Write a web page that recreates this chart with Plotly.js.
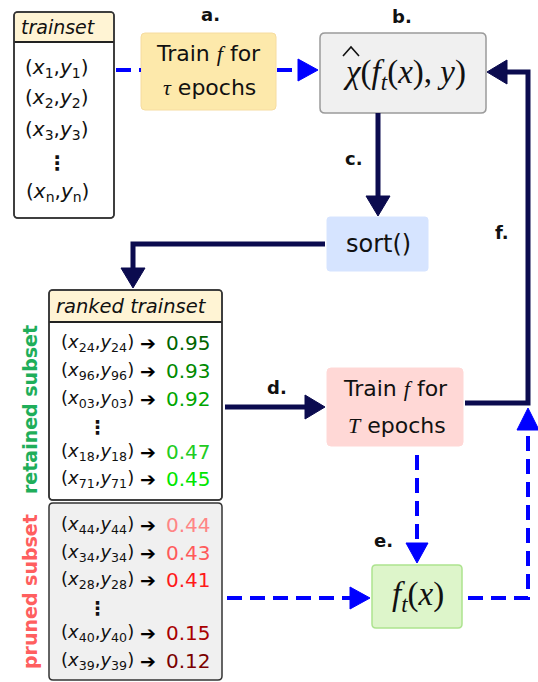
<!DOCTYPE html>
<html>
<head>
<meta charset="utf-8">
<script src="https://cdn.plot.ly/plotly-3.0.1.min.js"></script>
<style>html,body{margin:0;padding:0;background:#fff;}</style>
</head>
<body>
<div id="chart" style="width:538px;height:682px;"></div>
<script>
// ---- data (text content of the diagram) ----
const trainsetTitle = "trainset";
const trainsetIdx = ["1", "2", "3", "⋮", "n"];
const rankedTitle = "ranked trainset";
const retainedIdx = ["24", "96", "03", "⋮", "18", "71"];
const retainedScores = ["0.95", "0.93", "0.92", "", "0.47", "0.45"];
const retainedColors = ["#006400", "#008a00", "#00a600", "", "#22cc22", "#00e600"];
const prunedIdx = ["44", "34", "28", "⋮", "40", "39"];
const prunedScores = ["0.44", "0.43", "0.41", "", "0.15", "0.12"];
const prunedColors = ["#ff8585", "#ff5a5a", "#ff1a1a", "", "#a80000", "#7a0000"];
const stepLabels = ["a.", "b.", "c.", "d.", "e.", "f."];
const sideLabels = ["retained subset", "pruned subset"];
const sideColors = ["#1fae5a", "#ff5f5f"];

// ---- helpers ----
const NAVY = "#0b0b4f", BLUE = "#0000ff";
const SANS = "DejaVu Sans", SERIF = "Liberation Serif";
function rr(x0, y0, x1, y1, r) {
  return `M${x0+r},${y0} L${x1-r},${y0} Q${x1},${y0} ${x1},${y0+r} L${x1},${y1-r} Q${x1},${y1} ${x1-r},${y1} L${x0+r},${y1} Q${x0},${y1} ${x0},${y1-r} L${x0},${y0+r} Q${x0},${y0} ${x0+r},${y0} Z`;
}
function box(x0, y0, x1, y1, fill, lc, lw, r) {
  return {type: "path", xref: "x", yref: "y", path: rr(x0, y0, x1, y1, r === undefined ? 4 : r),
          fillcolor: fill, line: {color: lc, width: lw}};
}
function poly(pts, color, width, dash) {
  return {type: "path", xref: "x", yref: "y",
          path: "M" + pts.map(p => p[0] + "," + p[1]).join(" L"),
          line: {color: color, width: width, dash: dash || "solid"}};
}
function tri(pts, color) {
  return {type: "path", xref: "x", yref: "y",
          path: "M" + pts.map(p => p[0] + "," + p[1]).join(" L") + " Z",
          fillcolor: color, line: {color: color, width: 1}};
}
function txt(x, y, text, size, opts) {
  return Object.assign({x: x, y: y, xref: "x", yref: "y", text: text, showarrow: false,
    xanchor: "center", yanchor: "middle", font: {family: SANS, size: size, color: "#111"}}, opts || {});
}
const sf = s => `<span style="font-family:'${SERIF}'"><i>${s}</i></span>`;
const tuple = i => `(<i>x</i><sub>${i}</sub>,<i>y</i><sub>${i}</sub>)`;

const shapes = [];
const ann = [];

// trainset box
shapes.push(box(14, 12, 114, 218, "#ffffff", "#333", 1.5, 4));
shapes.push({type: "rect", xref: "x", yref: "y", x0: 15, x1: 113, y0: 13, y1: 42, fillcolor: "#fff4d4", line: {width: 0}});
shapes.push(poly([[14, 42], [114, 42]], "#222", 2));
shapes.push(box(14, 12, 114, 218, "rgba(0,0,0,0)", "#333", 1.5, 4));
ann.push(txt(19, 27, `<i>${trainsetTitle}</i>`, 19, {xanchor: "left"}));
const tsY = [68, 98, 130, 163, 192];
trainsetIdx.forEach((s, k) => {
  ann.push(txt(57, tsY[k], s === "⋮" ? "<b>⋮</b>" : tuple(s), 20));
});

// ranked trainset box
shapes.push(box(49, 290, 222, 500, "#ffffff", "#333", 1.5, 4));
shapes.push({type: "rect", xref: "x", yref: "y", x0: 50, x1: 221, y0: 291, y1: 322, fillcolor: "#fff4d4", line: {width: 0}});
shapes.push(poly([[49, 322], [222, 322]], "#222", 2));
shapes.push(box(49, 290, 222, 500, "rgba(0,0,0,0)", "#333", 1.5, 4));
shapes.push(box(49, 503, 222, 680, "#f0f0f0", "#333", 1.5, 4));
ann.push(txt(54, 306, `<i>${rankedTitle}</i>`, 19.5, {xanchor: "left"}));
const rY = [343, 371, 399, 427, 452, 479];
const pY = [525, 553, 580, 608, 633, 661];
function rows(idx, scores, colors, ys) {
  idx.forEach((s, k) => {
    if (s === "⋮") { ann.push(txt(97, ys[k], "<b>⋮</b>", 19)); return; }
    ann.push(txt(59, ys[k], tuple(s), 18, {xanchor: "left"}));
    ann.push(txt(148, ys[k], "➔", 19, {font: {family: SANS, size: 19, color: "#000"}}));
    ann.push(txt(164, ys[k], scores[k], 20, {xanchor: "left", font: {family: SANS, size: 20, color: colors[k]}}));
  });
}
rows(retainedIdx, retainedScores, retainedColors, rY);
rows(prunedIdx, prunedScores, prunedColors, pY);
ann.push(txt(30, 410, `<b>${sideLabels[0]}</b>`, 19, {textangle: -90, font: {family: SANS, size: 19, color: sideColors[0]}}));
ann.push(txt(30, 592, `<b>${sideLabels[1]}</b>`, 19, {textangle: -90, font: {family: SANS, size: 19, color: sideColors[1]}}));

// box a
shapes.push(box(141, 33, 276, 110, "#fde9ab", "#f6dca0", 1, 4));
ann.push(txt(208, 53, `Train ${sf("f")} for`, 22));
ann.push(txt(209, 87, `${sf("τ")} epochs`, 22));
// box b
shapes.push(box(320, 33, 486, 113, "#f0f0f0", "#9a9a9a", 1.5, 5));
ann.push(txt(404, 74, `<i>χ</i>(<i>f</i><sub><i>t</i></sub>(<i>x</i>), <i>y</i>)`, 33, {font: {family: SERIF, size: 33, color: "#111"}}));
// circumflex accent over chi
shapes.push(poly([[343, 56], [351, 47], [359, 56]], "#111", 1.6));
// sort box
shapes.push(box(327, 217, 428, 271, "#d6e4ff", "#d6e4ff", 1, 3));
ann.push(txt(378, 244, "sort()", 24));
// box T
shapes.push(box(327, 368, 463, 446, "#ffd8d6", "#ffd8d6", 1, 4));
ann.push(txt(395, 388, `Train ${sf("f")} for`, 22));
ann.push(txt(397, 425, `${sf("T")} epochs`, 22));
// box e
shapes.push(box(372, 565, 462, 628, "#ddf5ca", "#ade38f", 1.5, 4));
ann.push(txt(418, 596, `<i>f</i><sub><i>t</i></sub>(<i>x</i>)`, 33, {font: {family: SERIF, size: 33, color: "#111"}}));

// navy solid connectors
shapes.push(poly([[378, 113], [378, 198]], NAVY, 5));
shapes.push(tri([[366, 196], [390, 196], [378, 216]], NAVY));
shapes.push(poly([[325, 244], [133, 244], [133, 270]], NAVY, 5));
shapes.push(tri([[121, 268], [145, 268], [133, 288]], NAVY));
shapes.push(poly([[225, 407], [307, 407]], NAVY, 5));
shapes.push(tri([[305, 395], [305, 419], [325, 407]], NAVY));
shapes.push(poly([[465, 403], [528, 403], [528, 72], [505, 72]], NAVY, 5));
shapes.push(tri([[507, 60], [507, 84], [487, 72]], NAVY));

// blue dashed connectors
const DASH = "15px,8px";
shapes.push(poly([[116, 70], [141, 70]], BLUE, 4, DASH));
shapes.push(poly([[277, 70], [300, 70]], BLUE, 4, DASH));
shapes.push(tri([[298, 59], [298, 81], [318, 70]], BLUE));
shapes.push(poly([[417, 455], [417, 545]], BLUE, 4, DASH));
shapes.push(tri([[406, 543], [428, 543], [417, 563]], BLUE));
shapes.push(poly([[227, 598], [352, 598]], BLUE, 4, DASH));
shapes.push(tri([[350, 587], [350, 609], [370, 598]], BLUE));
shapes.push(poly([[468, 598], [528, 598], [528, 428]], BLUE, 4, DASH));
shapes.push(tri([[517, 430], [539, 430], [528, 408]], BLUE));

// step labels
const lblPos = [[210, 14], [402, 16], [354, 158], [277, 387], [383, 540], [502, 232]];
stepLabels.forEach((s, k) => ann.push(txt(lblPos[k][0], lblPos[k][1], `<b>${s}</b>`, 18)));

const layout = {
  width: 538, height: 682, margin: {l: 0, r: 0, t: 0, b: 0},
  paper_bgcolor: "#ffffff", plot_bgcolor: "#ffffff", showlegend: false,
  xaxis: {range: [0, 538], visible: false, fixedrange: true},
  yaxis: {range: [682, 0], visible: false, fixedrange: true},
  shapes: shapes, annotations: ann
};
Plotly.newPlot("chart", [{x: [], y: [], type: "scatter"}], layout, {staticPlot: true, displayModeBar: false});
</script>
</body>
</html>
